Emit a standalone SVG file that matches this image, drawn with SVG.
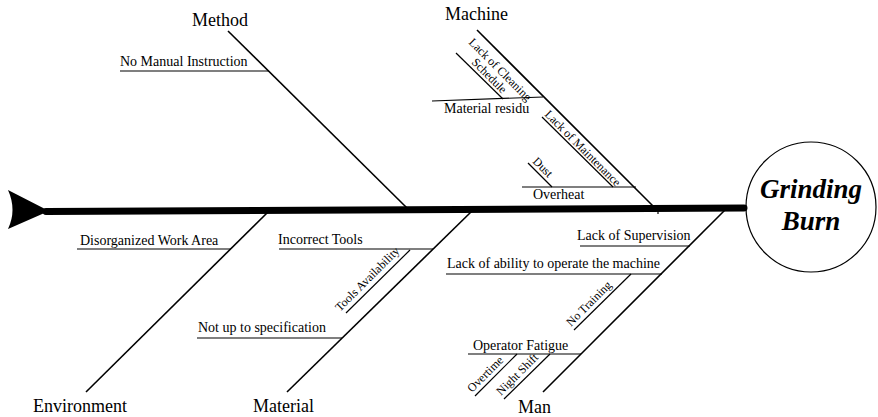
<svg xmlns="http://www.w3.org/2000/svg" width="878" height="417" viewBox="0 0 878 417">
<style>
  .bone{stroke:#000;stroke-width:1.6;fill:none}
  .sub{stroke:#000;stroke-width:1.2;fill:none}
  text{font-family:'Liberation Serif',serif;fill:#000}
  .cat{font-size:18px}
  .lbl{font-size:14px}
  .sm{font-size:12px}
  .head{font-size:27px;font-weight:bold;font-style:italic}
</style>
<rect width="878" height="417" fill="#fff"/>
<g id="spine">
  <path d="M8,190 Q17,210 8,229 L49,211 Z" fill="#000"/>
  <line x1="46" y1="211.5" x2="744" y2="208" stroke="#000" stroke-width="7" stroke-linecap="round"/>
</g>
<g id="head">
  <circle cx="811" cy="207" r="65" fill="none" stroke="#000" stroke-width="1.2"/>
  <text class="head" x="811" y="198" text-anchor="middle" font-family="Liberation Serif, serif">Grinding</text>
  <text class="head" x="811" y="230" text-anchor="middle" font-family="Liberation Serif, serif">Burn</text>
</g>
<g id="connectors">
  <line class="bone" x1="228" y1="31" x2="407" y2="208"/>
  <line class="bone" x1="477" y1="30" x2="653" y2="206"/>
  <line class="sub" x1="658" y1="210" x2="658" y2="214"/>
  <line class="bone" x1="86" y1="392" x2="269" y2="211"/>
  <line class="bone" x1="287" y1="392" x2="472" y2="211"/>
  <line class="bone" x1="543" y1="392" x2="725" y2="210"/>
</g>
<g id="method" font-family="Liberation Serif, serif">
  <text class="cat" x="192" y="26">Method</text>
  <line class="sub" x1="120" y1="71" x2="269" y2="71"/>
  <text class="lbl" x="120" y="66">No Manual Instruction</text>
</g>
<g id="machine" font-family="Liberation Serif, serif">
  <text class="cat" x="445" y="20">Machine</text>
  <line class="sub" x1="432" y1="101" x2="543" y2="97"/>
  <text class="lbl" x="444" y="113">Material residu</text>
  <line class="sub" x1="456" y1="53" x2="503" y2="99"/>
  <text class="sm" transform="translate(471,63) rotate(45)">Schedule</text>
  <text class="sm" transform="translate(468,43) rotate(45)">Lack of Cleaning</text>
  <line class="sub" x1="522" y1="187" x2="636" y2="187"/>
  <text class="lbl" x="533" y="199">Overheat</text>
  <line class="sub" x1="542" y1="117" x2="613" y2="187"/>
  <text class="sm" transform="translate(544,115) rotate(45)">Lack of Maintenance</text>
  <line class="sub" x1="528" y1="163" x2="552" y2="187"/>
  <text class="sm" transform="translate(532,162) rotate(45)">Dust</text>
</g>
<g id="environment" font-family="Liberation Serif, serif">
  <text class="cat" x="33" y="412">Environment</text>
  <line class="sub" x1="77" y1="249" x2="231" y2="249"/>
  <text class="lbl" x="80" y="245">Disorganized Work Area</text>
</g>
<g id="material" font-family="Liberation Serif, serif">
  <text class="cat" x="253" y="412">Material</text>
  <line class="sub" x1="279" y1="249" x2="433" y2="249"/>
  <text class="lbl" x="278" y="244">Incorrect Tools</text>
  <line class="sub" x1="346" y1="313" x2="410" y2="250"/>
  <text class="sm" transform="translate(340,312) rotate(-45)">Tools Availability</text>
  <line class="sub" x1="197" y1="338" x2="342" y2="338"/>
  <text class="lbl" x="198" y="332">Not up to specification</text>
</g>
<g id="man" font-family="Liberation Serif, serif">
  <text class="cat" x="518" y="413">Man</text>
  <line class="sub" x1="580" y1="246" x2="690" y2="246"/>
  <text class="lbl" x="577" y="240">Lack of Supervision</text>
  <line class="sub" x1="446" y1="274" x2="662" y2="274"/>
  <text class="lbl" x="447" y="268">Lack of ability to operate the machine</text>
  <line class="sub" x1="574" y1="330" x2="631" y2="274"/>
  <text class="sm" transform="translate(571,327) rotate(-45)">No Training</text>
  <line class="sub" x1="468" y1="354" x2="581" y2="354"/>
  <text class="lbl" x="473" y="350">Operator Fatigue</text>
  <line class="sub" x1="475" y1="396" x2="517" y2="354"/>
  <text class="sm" transform="translate(472,393) rotate(-45)">Overtime</text>
  <line class="sub" x1="504" y1="399" x2="550" y2="354"/>
  <text class="sm" transform="translate(501,396) rotate(-45)">Night Shift</text>
</g>
</svg>
